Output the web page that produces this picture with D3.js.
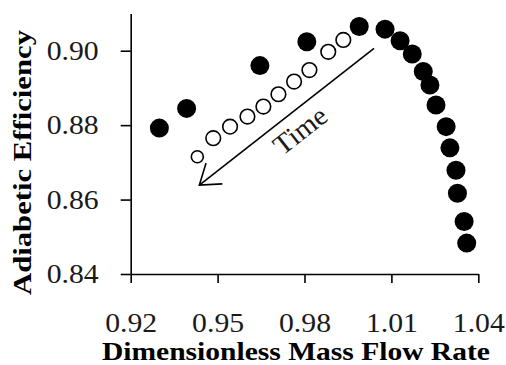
<!DOCTYPE html>
<html>
<head>
<meta charset="utf-8">
<script src="https://cdn.jsdelivr.net/npm/d3@7"></script>
<style>
  body { margin: 0; background: #fff; }
  svg { display: block; }
</style>
</head>
<body>
<div class="vis-scatter"></div>
<script>
// Measured (filled) points
const filledX = [0.9299, 0.9393, 0.9646, 0.9808, 0.9989, 1.0078, 1.0130, 1.0172, 1.0210, 1.0233,
                 1.0254, 1.0289, 1.0302, 1.0323, 1.0328, 1.0351, 1.0360];
const filledY = [0.8792, 0.8845, 0.8960, 0.9024, 0.9065, 0.9058, 0.9027, 0.8991, 0.8944, 0.8908,
                 0.8854, 0.8796, 0.8739, 0.8679, 0.8617, 0.8541, 0.8483];
// Transient (open) points
const openX = [0.9430, 0.9485, 0.9543, 0.9603, 0.9658, 0.9710, 0.9764, 0.9817, 0.9882, 0.9934];
const openY = [0.8715, 0.8765, 0.8796, 0.8823, 0.8850, 0.8883, 0.8917, 0.8948, 0.8997, 0.9029];

const xTicks = [0.92, 0.95, 0.98, 1.01, 1.04];
const yTicks = [0.84, 0.86, 0.88, 0.90];

// "Time" arrow, in data units
const arrowFrom = [1.0040, 0.9006];
const arrowTo = [0.9437, 0.8639];
const timeLabelAt = [0.9784, 0.8787];

const W = 506, H = 365;
const margin = { top: 13.5, right: 27.7, bottom: 91, left: 130.7 };
const width = W - margin.left - margin.right;
const height = H - margin.top - margin.bottom;
const font = "'Liberation Serif', 'Times New Roman', serif";

const svg = d3.select('.vis-scatter')
    .append('svg')
    .attr('width', W)
    .attr('height', H)
    .append('g')
    .attr('transform', 'translate(' + margin.left + ',' + margin.top + ')');

let x = d3.scaleLinear().domain([0.92, 1.04]).range([0, width]);
let y = d3.scaleLinear().domain([0.84, 0.91]).range([height, 0]);

// Axes
let gx = svg.append('g')
    .attr('transform', 'translate(0,' + height + ')')
    .call(d3.axisBottom(x).tickValues(xTicks).tickFormat(d3.format('.2f')).tickSize(9).tickSizeOuter(0).tickPadding(30));
let gy = svg.append('g')
    .call(d3.axisLeft(y).tickValues(yTicks).tickFormat(d3.format('.2f')).tickSize(10).tickSizeOuter(0).tickPadding(22));

[gx, gy].forEach(g => {
    g.selectAll('path, line').attr('stroke', '#000').attr('stroke-width', 1.6);
    g.selectAll('text')
        .attr('fill', '#1a1a1a')
        .attr('textLength', 52)
        .attr('lengthAdjust', 'spacingAndGlyphs')
        .style('font-family', font)
        .style('font-size', '27px');
});

// Axis titles
svg.append('text')
    .attr('x', width / 2 - 8.6)
    .attr('y', height + 86)
    .attr('text-anchor', 'middle')
    .attr('textLength', 388)
    .attr('lengthAdjust', 'spacingAndGlyphs')
    .style('font-family', font)
    .style('font-weight', 'bold')
    .style('font-size', '26px')
    .text('Dimensionless Mass Flow Rate');

svg.append('text')
    .attr('transform', 'translate(' + (-margin.left + 31) + ',' + 149 + ')rotate(-90)')
    .attr('text-anchor', 'middle')
    .attr('textLength', 265)
    .attr('lengthAdjust', 'spacingAndGlyphs')
    .style('font-family', font)
    .style('font-weight', 'bold')
    .style('font-size', '26px')
    .text('Adiabetic Efficiency');

// Filled points
svg.selectAll('.filled')
    .data(d3.zip(filledX, filledY))
    .enter()
    .append('circle')
    .attr('class', 'filled')
    .attr('cx', d => x(d[0]))
    .attr('cy', d => y(d[1]))
    .attr('r', 9.5)
    .attr('fill', '#000');

// Open points
svg.selectAll('.open')
    .data(d3.zip(openX, openY))
    .enter()
    .append('circle')
    .attr('class', 'open')
    .attr('cx', d => x(d[0]))
    .attr('cy', d => y(d[1]))
    .attr('r', (d, i) => i === 0 ? 6 : 7.3)
    .attr('fill', '#fff')
    .attr('stroke', '#000')
    .attr('stroke-width', 1.6);

// Time arrow
const x1 = x(arrowFrom[0]), y1 = y(arrowFrom[1]);
const x2 = x(arrowTo[0]), y2 = y(arrowTo[1]);
const ang = Math.atan2(y1 - y2, x1 - x2);
const head = 23, spread = 35 * Math.PI / 180;
svg.append('line')
    .attr('x1', x1).attr('y1', y1).attr('x2', x2).attr('y2', y2)
    .attr('stroke', '#000').attr('stroke-width', 1.6);
svg.append('path')
    .attr('d', 'M' + (x2 + head * Math.cos(ang - spread)) + ',' + (y2 + head * Math.sin(ang - spread)) +
        'L' + x2 + ',' + y2 +
        'L' + (x2 + head * Math.cos(ang + spread)) + ',' + (y2 + head * Math.sin(ang + spread)))
    .attr('fill', 'none').attr('stroke', '#000').attr('stroke-width', 1.6);

svg.append('text')
    .attr('transform', 'translate(' + x(timeLabelAt[0]) + ',' + y(timeLabelAt[1]) + ')rotate(' + (ang * 180 / Math.PI) + ')')
    .attr('text-anchor', 'middle')
    .attr('dy', '0.35em')
    .attr('textLength', 60)
    .attr('lengthAdjust', 'spacingAndGlyphs')
    .attr('fill', '#1a1a1a')
    .style('font-family', font)
    .style('font-size', '28px')
    .text('Time');
</script>
</body>
</html>
